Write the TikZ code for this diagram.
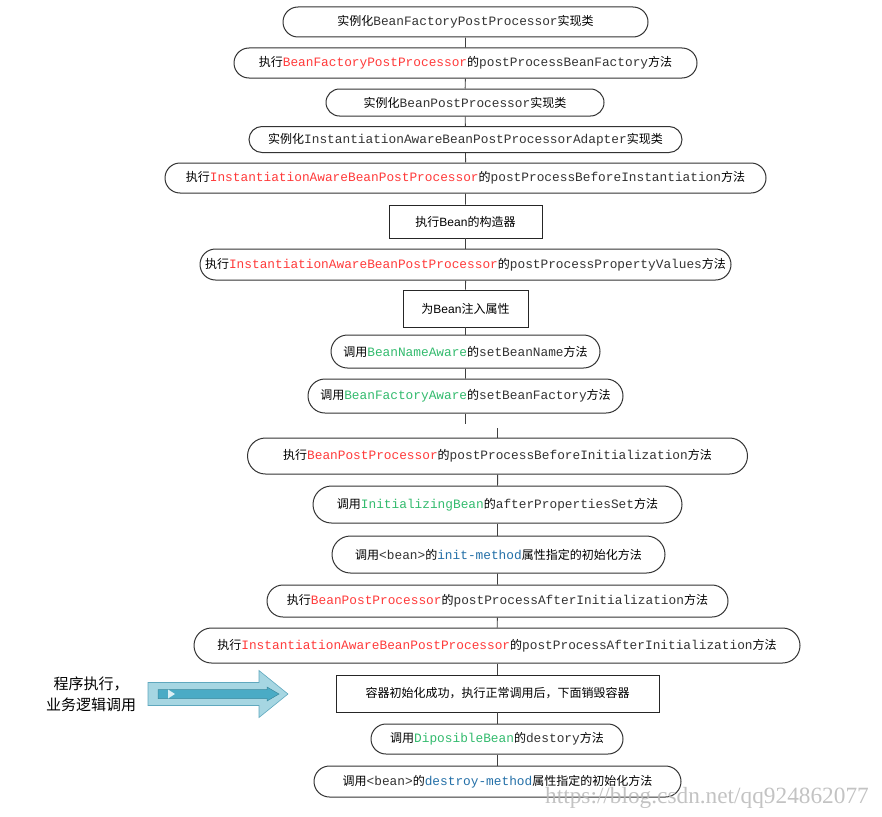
\documentclass[tikz,border=0pt]{standalone}
\usepackage{fontspec}
\setmainfont{Noto Sans CJK SC}
\setsansfont{Liberation Sans}
\setmonofont{Liberation Mono}
\newfontfamily\markfont{Liberation Serif}
\usetikzlibrary{shapes.misc}
\definecolor{procRed}{HTML}{FF3B3B}
\definecolor{awareGreen}{HTML}{33BB6E}
\definecolor{attrBlue}{HTML}{2470A8}
\definecolor{codeGray}{HTML}{333333}
\definecolor{arrowLight}{HTML}{A6D6E2}
\definecolor{arrowDark}{HTML}{4AABC5}
\definecolor{arrowEdge}{HTML}{5FA8BE}

\newcommand{\code}[1]{{\fontsize{12.8}{14}\selectfont\ttfamily\color{codeGray}#1}}
\newcommand{\proc}[1]{{\fontsize{12.8}{14}\selectfont\ttfamily\color{procRed}#1}}
\newcommand{\aware}[1]{{\fontsize{12.8}{14}\selectfont\ttfamily\color{awareGreen}#1}}
\newcommand{\attr}[1]{{\fontsize{12.8}{14}\selectfont\ttfamily\color{attrBlue}#1}}

\begin{document}
\begin{tikzpicture}[
  x=1pt, y=-1pt,
  pill/.style={rounded rectangle, draw=black!80, line width=1pt, fill=white,
    inner sep=0pt, font=\fontsize{12}{14}\selectfont},
  plainbox/.style={rectangle, draw=black!85, line width=0.9pt, fill=white,
    inner sep=0pt, font=\fontsize{12}{14}\selectfont},
  link/.style={draw=black!75, line width=0.9pt},
]
  \useasboundingbox (0,0) rectangle (882,816);

  % Container start-up
  \node[pill, minimum width=365pt, minimum height=30pt] (instBFPP) at (465.5,22)
    {实例化\code{BeanFactoryPostProcessor}实现类};
  \node[pill, minimum width=463pt, minimum height=30pt] (runBFPP) at (465.5,63)
    {执行\proc{BeanFactoryPostProcessor}的\code{postProcessBeanFactory}方法};
  \node[pill, minimum width=278pt, minimum height=27pt] (instBPP) at (465,102.5)
    {实例化\code{BeanPostProcessor}实现类};
  \node[pill, minimum width=433pt, minimum height=26pt] (instIABPP) at (465.5,139.5)
    {实例化\code{InstantiationAwareBeanPostProcessorAdapter}实现类};
  \node[pill, minimum width=601pt, minimum height=30pt] (beforeInst) at (465.5,178)
    {执行\proc{InstantiationAwareBeanPostProcessor}的\code{postProcessBeforeInstantiation}方法};

  % Bean creation
  \node[plainbox, minimum width=153pt, minimum height=33pt] (ctor) at (465.5,221.5)
    {执行\textsf{Bean}的构造器};
  \node[pill, minimum width=531pt, minimum height=31pt] (propValues) at (465.5,264.5)
    {执行\proc{InstantiationAwareBeanPostProcessor}的\code{postProcessPropertyValues}方法};
  \node[plainbox, minimum width=125pt, minimum height=37pt] (inject) at (465.5,308.5)
    {为\textsf{Bean}注入属性};
  \node[pill, minimum width=269pt, minimum height=33pt] (nameAware) at (465.5,351.5)
    {调用\aware{BeanNameAware}的\code{setBeanName}方法};
  \node[pill, minimum width=315pt, minimum height=34pt] (factoryAware) at (465.5,396)
    {调用\aware{BeanFactoryAware}的\code{setBeanFactory}方法};

  % Initialization
  \node[pill, minimum width=500pt, minimum height=36pt] (beforeInit) at (497.5,456)
    {执行\proc{BeanPostProcessor}的\code{postProcessBeforeInitialization}方法};
  \node[pill, minimum width=369pt, minimum height=37pt] (propsSet) at (497.5,504.5)
    {调用\aware{InitializingBean}的\code{afterPropertiesSet}方法};
  \node[pill, minimum width=333pt, minimum height=37pt] (initMethod) at (498.5,554.5)
    {调用\code{<bean>}的\attr{init-method}属性指定的初始化方法};
  \node[pill, minimum width=461pt, minimum height=32pt] (afterInit) at (497.5,601)
    {执行\proc{BeanPostProcessor}的\code{postProcessAfterInitialization}方法};
  \node[pill, minimum width=606pt, minimum height=35pt] (afterInitIA) at (497,645.5)
    {执行\proc{InstantiationAwareBeanPostProcessor}的\code{postProcessAfterInitialization}方法};

  % Running and shutdown
  \node[plainbox, minimum width=323pt, minimum height=37pt] (ready) at (497.5,693.5)
    {容器初始化成功，执行正常调用后，下面销毁容器};
  \node[pill, minimum width=252pt, minimum height=30pt] (disposable) at (497,739)
    {调用\aware{DiposibleBean}的\code{destory}方法};
  \node[pill, minimum width=367pt, minimum height=31pt] (destroyMethod) at (497.5,781.5)
    {调用\code{<bean>}的\attr{destroy-method}属性指定的初始化方法};

  % Connectors
  \draw[link] (instBFPP) -- (runBFPP);
  \draw[link] (runBFPP) -- (instBPP);
  \draw[link] (instBPP) -- (instIABPP);
  \draw[link] (instIABPP) -- (beforeInst);
  \draw[link] (beforeInst) -- (ctor);
  \draw[link] (ctor) -- (propValues);
  \draw[link] (propValues) -- (inject);
  \draw[link] (inject) -- (nameAware);
  \draw[link] (nameAware) -- (factoryAware);
  \coordinate (gapTop) at (465.5,424);
  \coordinate (gapBottom) at (497.5,428);
  \draw[link] (factoryAware) -- (gapTop);
  \draw[link] (gapBottom) -- (beforeInit);
  \draw[link] (beforeInit) -- (propsSet);
  \draw[link] (propsSet.south) -- (initMethod.north -| propsSet.south);
  \draw[link] (initMethod.south -| afterInit.north) -- (afterInit);
  \draw[link] (afterInit) -- (afterInitIA);
  \draw[link] (afterInitIA.south -| ready.north) -- (ready);
  \draw[link] (ready) -- (disposable.north -| ready.south);
  \draw[link] (disposable.south -| destroyMethod.north) -- (destroyMethod);

  % Business call arrow
  \node[font=\fontsize{15}{21}\selectfont, align=center, inner sep=0pt] (bizCall) at (91,694)
    {程序执行，\\业务逻辑调用};
  \filldraw[fill=arrowLight, draw=arrowEdge, line width=0.6pt]
    (148,682.5) -- (259,682.5) -- (259,670.5) -- (288,694) -- (259,717.5)
    -- (259,705.5) -- (148,705.5) -- cycle;
  \filldraw[fill=arrowDark, draw=arrowDark!80!black, line width=0.5pt]
    (158,689.5) -- (267,689.5) -- (267,687) -- (279,694) -- (267,701)
    -- (267,698.5) -- (158,698.5) -- cycle;
  \fill[arrowLight!40] (168,689.5) -- (175,694) -- (168,698.5) -- cycle;

  % Watermark
  \node[font=\markfont\fontsize{23.3}{24}\selectfont, text=black!28, anchor=base west,
    inner sep=0pt, opacity=0.85] (blogMark) at (545,803)
    {https://blog.csdn.net/qq924862077};
\end{tikzpicture}
\end{document}
